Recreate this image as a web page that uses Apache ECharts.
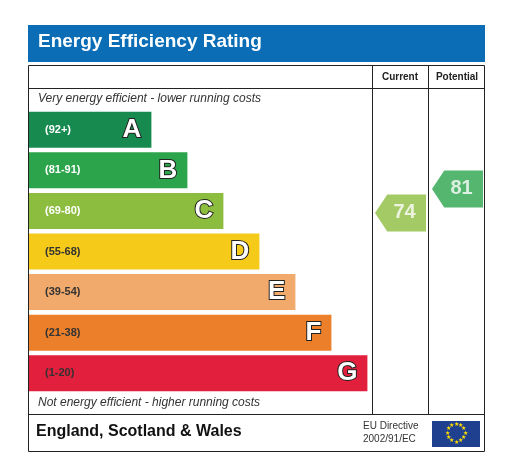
<!DOCTYPE html>
<html><head><meta charset="utf-8">
<script src="https://cdn.jsdelivr.net/npm/echarts@6/dist/echarts.min.js"></script>
<style>html,body{margin:0;background:#fff}#chart{width:509px;height:466px}</style>
</head><body><div id="chart"></div>
<script>
var bands = ['A', 'B', 'C', 'D', 'E', 'F', 'G'];
var ranges = ['(92+)', '(81-91)', '(69-80)', '(55-68)', '(39-54)', '(21-38)', '(1-20)'];
var barLengths = [34, 44, 54, 64, 74, 84, 94];
var bandColors = ['#178b4f', '#2ba44b', '#8cbd3f', '#f5ca19', '#f1aa6b', '#ec7f2a', '#e21f3c'];
var rangeTextColors = ['#fff', '#fff', '#fff', '#333', '#333', '#333', '#333'];
var columns = ['Current', 'Potential'];
var currentScore = 74, potentialScore = 81;

var chart = echarts.init(document.getElementById('chart'));
var F = 'Liberation Sans, Arial, sans-serif';

// EU flag stars
var stars = [];
for (var i = 0; i < 12; i++) {
  var a = i * Math.PI / 6;
  stars.push({ type: 'text', left: 456 + 9 * Math.sin(a) - 2.5, top: 434 - 9 * Math.cos(a) - 4,
    style: { text: '★', fill: '#ffdd00', font: '6px ' + F } });
}

var arrow = 'path://M0,0.5 L0.24,0 L1,0 L1,1 L0.24,1 Z';

chart.setOption({
  animation: false,
  grid: [
    { left: 29, top: 109.5, width: 360, height: 284 },
    { left: 372, top: 124, width: 114, height: 343 }
  ],
  xAxis: [
    { gridIndex: 0, type: 'value', min: 0, max: 100, show: false },
    { gridIndex: 1, type: 'category', data: columns, show: false }
  ],
  yAxis: [
    { gridIndex: 0, type: 'category', data: bands, inverse: true, show: false },
    { gridIndex: 1, type: 'value', min: 0, max: 100, show: false }
  ],
  graphic: [
    { type: 'rect', shape: { x: 28, y: 25, width: 457, height: 37 }, style: { fill: '#0a6db5' } },
    { type: 'text', left: 38, top: 32, style: { text: 'Energy Efficiency Rating', fill: '#fff', font: 'bold 19px ' + F } },
    { type: 'rect', shape: { x: 28.5, y: 65.5, width: 456, height: 386 }, style: { fill: 'none', stroke: '#222', lineWidth: 1 } },
    { type: 'line', shape: { x1: 28, y1: 88.5, x2: 485, y2: 88.5 }, style: { stroke: '#222' } },
    { type: 'line', shape: { x1: 28, y1: 414.5, x2: 485, y2: 414.5 }, style: { stroke: '#222' } },
    { type: 'line', shape: { x1: 372.5, y1: 65, x2: 372.5, y2: 415 }, style: { stroke: '#222' } },
    { type: 'line', shape: { x1: 428.5, y1: 65, x2: 428.5, y2: 415 }, style: { stroke: '#222' } },
    { type: 'text', x: 400, y: 77, style: { text: 'Current', fill: '#222', font: 'bold 10px ' + F, align: 'center', verticalAlign: 'middle' } },
    { type: 'text', x: 457, y: 77, style: { text: 'Potential', fill: '#222', font: 'bold 10px ' + F, align: 'center', verticalAlign: 'middle' } },
    { type: 'text', left: 38, top: 93, style: { text: 'Very energy efficient - lower running costs', fill: '#333', font: 'italic 12px ' + F } },
    { type: 'text', left: 38, top: 397, style: { text: 'Not energy efficient - higher running costs', fill: '#333', font: 'italic 12px ' + F } },
    { type: 'text', left: 36, top: 424, style: { text: 'England, Scotland & Wales', fill: '#111', font: 'bold 16px ' + F } },
    { type: 'text', left: 363, top: 421, style: { text: 'EU Directive', fill: '#333', font: '10px ' + F } },
    { type: 'text', left: 363, top: 434, style: { text: '2002/91/EC', fill: '#333', font: '10px ' + F } },
    { type: 'rect', shape: { x: 432, y: 421, width: 48, height: 26 }, style: { fill: '#1f3f8f' } }
  ].concat(stars),
  series: [
    {
      type: 'bar', xAxisIndex: 0, yAxisIndex: 0, barWidth: 36,
      data: barLengths.map(function (v, i) {
        return { value: v, itemStyle: { color: bandColors[i] },
          label: { color: rangeTextColors[i] } };
      }),
      label: { show: true, position: 'insideLeft', distance: 16, fontFamily: F, fontSize: 11, fontWeight: 'bold',
        formatter: function (p) { return ranges[p.dataIndex]; } }
    },
    {
      type: 'bar', xAxisIndex: 0, yAxisIndex: 0, barWidth: 36, barGap: '-100%',
      data: barLengths, itemStyle: { color: 'transparent' },
      label: { show: true, position: 'insideRight', distance: 10, fontFamily: F, fontSize: 26, fontWeight: 'bold',
        color: '#fff', textBorderColor: '#222', textBorderWidth: 2,
        formatter: function (p) { return bands[p.dataIndex]; } }
    },
    {
      type: 'scatter', xAxisIndex: 1, yAxisIndex: 1, symbol: arrow, symbolSize: [51, 37],
      data: [
        { value: [0, currentScore], itemStyle: { color: bandColors[2] } },
        { value: [1, potentialScore], itemStyle: { color: bandColors[1] } }
      ],
      label: { show: true, position: 'inside', offset: [4, 0], color: '#fff', fontFamily: F, fontSize: 20, fontWeight: 'bold',
        formatter: function (p) { return p.value[1]; } }
    }
  ]
});
</script></body></html>
